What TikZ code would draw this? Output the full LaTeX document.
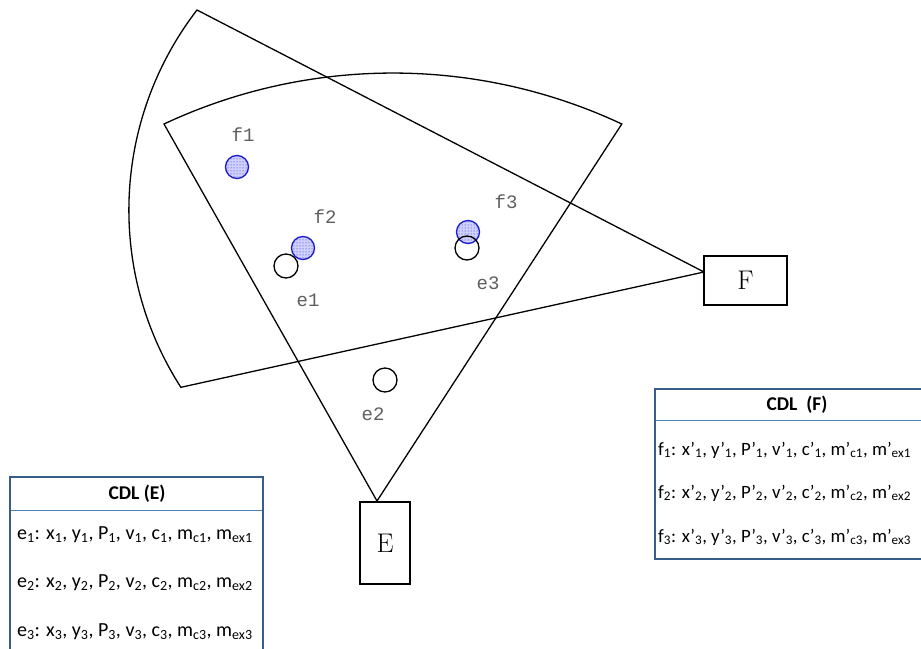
\documentclass[tikz,border=0pt]{standalone}
\usepackage{fontspec}
\newfontfamily\cdlfont{Carlito}
\newfontfamily\tagfont{Liberation Mono}
\usetikzlibrary{patterns}
\definecolor{cdlborder}{RGB}{56,93,138}
\definecolor{cdlrule}{RGB}{79,129,189}
\definecolor{taggray}{RGB}{95,95,95}
\definecolor{tagblue}{RGB}{25,25,205}

\begin{document}
\begin{tikzpicture}[x=1pt,y=-1pt]
\tikzset{wedge/.style={draw=black,line width=1.3pt,line join=miter},
	sensorbox/.style={draw=black,line width=2pt,fill=white,inner sep=0pt,font=\fontsize{27}{27}\selectfont},
	etarget/.style={circle,draw=black,line width=1.3pt,minimum size=24pt,inner sep=0pt},
	ftarget/.style={circle,draw=tagblue,line width=1.3pt,minimum size=23pt,inner sep=0pt,preaction={fill=blue!18},pattern=dots,pattern color=tagblue},
	tag/.style={text=taggray,font=\tagfont\fontsize{19}{19}\selectfont,inner sep=0pt},
	cdlframe/.style={draw=cdlborder,line width=2.2pt},
	cdlrule/.style={draw=cdlrule,line width=1pt},
	cdlhead/.style={font=\cdlfont\bfseries\fontsize{19.5}{19.5}\selectfont,inner sep=0pt},
	cdlrow/.style={font=\cdlfont\fontsize{20}{20}\selectfont,inner sep=0pt,anchor=west}}
\clip (0,0) rectangle (921,648);
\fill[white] (0,0) rectangle (921,648);

\begin{scope}
\coordinate (Eapex) at (377,501);
\coordinate (Eleft) at (164,124);
\coordinate (Fapex) at (704,272);
\coordinate (Ftop) at (197,10);
\draw[wedge] (Eapex) -- (Eleft) arc[start angle=115.1,end angle=64.9,radius=539.6pt] -- cycle;
\draw[wedge] (Fapex) -- (Ftop) arc[start angle=142.4,end angle=212.7,radius=328pt] -- cycle;

\node[sensorbox,minimum width=50pt,minimum height=82pt] (E) at (385,543) {E};
\node[sensorbox,minimum width=83pt,minimum height=49pt] (F) at (745.5,280.5) {F};

\node[etarget] (e1) at (286,266) {};
\node[etarget] (e2) at (385,380) {};
\foreach \name/\x/\y in {f1/237/167,f2/303/248,f3/468/232}{%
	\node[ftarget] (\name) at (\x,\y) {};
}%
\node[etarget] (e3) at (467,248) {};

\foreach \name/\x/\y in {f1/243/135,f2/325/217,f3/506/202,e1/308/300,e2/373/414,e3/488/283}{%
	\node[tag] (\name-label) at (\x,\y) {\name};
}%
\end{scope}

% CDL (E)
\draw[cdlframe] (10,652) -- (10,477) -- (263,477) -- (263,652);
\draw[cdlrule] (11,510) -- (262,510);
\node[cdlhead] (cdlE) at (137,494) {CDL (E)};
\foreach \i/\y in {1/535,2/583,3/632}{%
	\node[cdlrow] (e\i-row) at (17,\y) {e\textsubscript{\i}: x\textsubscript{\i}, y\textsubscript{\i}, P\textsubscript{\i}, v\textsubscript{\i}, c\textsubscript{\i}, m\textsubscript{c\i}, m\textsubscript{ex\i}};
}%

% CDL (F)
\draw[cdlframe] (930,389) -- (655,389) -- (655,559) -- (930,559);
\draw[cdlrule] (656,420) -- (930,420);
\node[cdlhead] (cdlF) at (797,405) {CDL\ \ (F)};
\foreach \i/\y in {1/450,2/493,3/537}{%
	\node[cdlrow,font=\cdlfont\fontsize{18.8}{18.8}\selectfont] (f\i-row) at (658,\y) {f\textsubscript{\i}: x’\textsubscript{\i}, y’\textsubscript{\i}, P’\textsubscript{\i}, v’\textsubscript{\i}, c’\textsubscript{\i}, m’\textsubscript{c\i}, m’\textsubscript{ex\i}};
}%
\end{tikzpicture}
\end{document}
